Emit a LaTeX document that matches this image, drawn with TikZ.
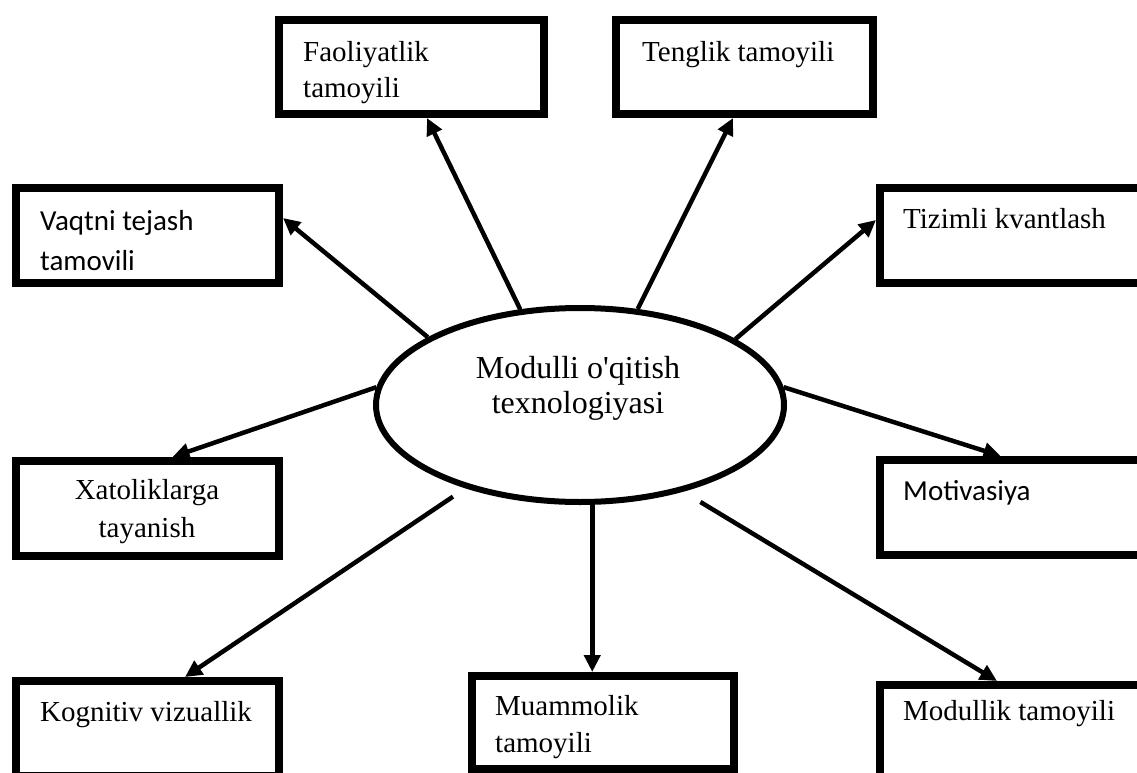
\documentclass[tikz,border=0pt]{standalone}
\usepackage{fontspec}
\setmainfont{Liberation Serif}
\newfontfamily\calibrifont{Carlito}
\usetikzlibrary{shapes.geometric, arrows.meta}
\tikzset{
    principle box/.style={
        draw=black, line width=8pt, inner sep=0pt,
        minimum width=263pt, minimum height=95pt
    },
    principle text/.style={
        inner sep=0pt, align=left, font=\fontsize{29}{36}\selectfont
    },
    to principle/.style={
        line width=4.5pt, -{Triangle[length=17pt, width=16pt]}
    },
}

\begin{document}
\begin{tikzpicture}[x=1pt, y=-1pt]

    \useasboundingbox (0, 0) rectangle (1137, 773);
    \clip (0, 0) rectangle (1137, 773);

    \node [ellipse, draw, line width=6pt, minimum width=408pt, minimum height=194pt] (modul) at (580, 405) {};
    \node [principle text, align=center, anchor=north, font=\fontsize{32}{35}\selectfont] (modulText) at (578, 356) {Modulli o\textquotesingle qitish\\texnologiyasi};

    \node [principle box, minimum width=265pt, minimum height=94pt] (faoliyat) at (411.5, 67) {};
    \node [principle box, minimum width=257pt, minimum height=94pt] (tenglik) at (744.5, 67) {};
    \node [principle box] (vaqt) at (147.5, 235.5) {};
    \node [principle box, minimum width=261pt] (tizim) at (1010.5, 235.5) {};
    \node [principle box] (xato) at (147.5, 508.5) {};
    \node [principle box, minimum width=261pt] (motiv) at (1010.5, 507.5) {};
    \node [principle box] (kognitiv) at (147.5, 728.5) {};
    \node [principle box, minimum width=262pt, minimum height=93pt] (muammo) at (603, 722.5) {};
    \node [principle box, minimum width=261pt] (modullik) at (1010.5, 732.5) {};

    \node [principle text, anchor=north west] (faoliyatText) at (303, 41) {Faoliyatlik\\tamoyili};
    \node [principle text, anchor=base west] (tenglikText) at (642, 62) {Tenglik tamoyili};
    \node [principle text, anchor=north west, font=\calibrifont\fontsize{29}{40}\selectfont] (vaqtText) at (40, 210) {Vaqtni tejash\\tamovili};
    \node [principle text, anchor=base west] (tizimText) at (903, 228) {Tizimli kvantlash};
    \node [principle text, align=center, anchor=north, font=\fontsize{29}{38}\selectfont] (xatoText) at (147, 479) {Xatoliklarga\\tayanish};
    \node [principle text, anchor=base west, font=\calibrifont\fontsize{29}{35}\selectfont] (motivText) at (903, 500) {Motivasiya};
    \node [principle text, anchor=base] (kognitivText) at (146, 721) {Kognitiv vizuallik};
    \node [principle text, anchor=north west, font=\fontsize{29}{37}\selectfont] (muammoText) at (495, 695) {Muammolik\\tamoyili};
    \node [principle text, anchor=base west] (modullikText) at (903, 720) {Modullik tamoyili};

    \draw [to principle] (modul.122) -- ([xshift=15.5pt]faoliyat.south);
    \draw [to principle] (modul.59) -- ([xshift=-11.5pt]tenglik.south);
    \draw [to principle] (modul.156) -- ([yshift=17.5pt]vaqt.east);
    \draw [to principle] (modul.23) -- ([yshift=15.5pt]tizim.west);
    \draw [to principle] (modul.175) -- ([xshift=25pt]xato.north);
    \draw [to principle] (modul.5) -- ([xshift=-10pt]motiv.north);
    \draw [to principle, shorten <=15pt] (modul.216) -- ([xshift=37.5pt]kognitiv.north);
    \draw [to principle] (modul.277) -- (modul.277 |- muammo.north);
    \draw [to principle, shorten <=20pt] (modul.320) -- ([xshift=-13.5pt]modullik.north);

\end{tikzpicture}
\end{document}
